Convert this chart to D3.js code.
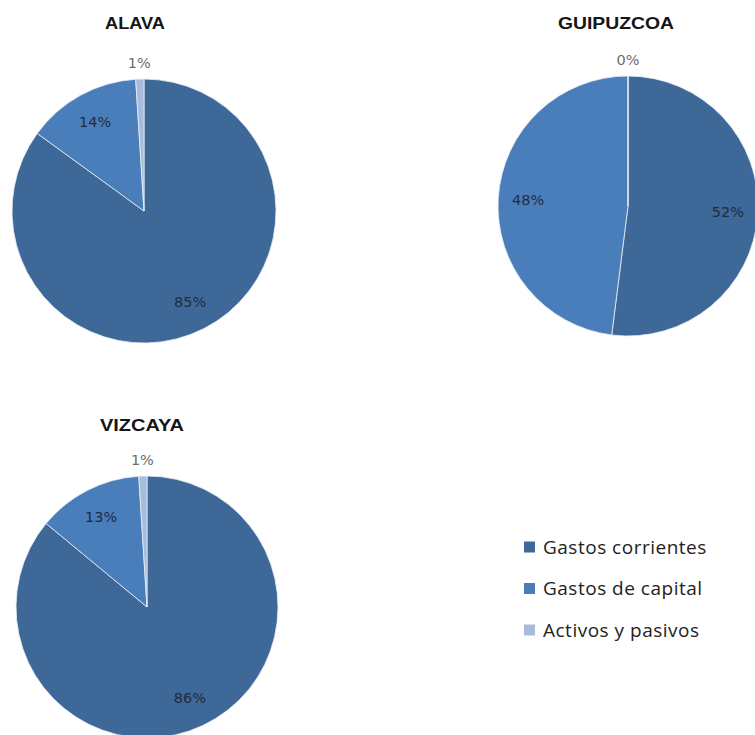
<!DOCTYPE html>
<html><head><meta charset="utf-8">
<script src="https://cdn.jsdelivr.net/npm/d3@7"></script>
<style>html,body{margin:0;padding:0;background:#fff;overflow:hidden}</style>
</head><body>
<svg id="c" width="755" height="735"></svg>
<script>
const categories = ["Gastos corrientes", "Gastos de capital", "Activos y pasivos"];
const regions = ["ALAVA", "GUIPUZCOA", "VIZCAYA"];
const alavaValues = [85, 14, 1];
const guipuzcoaValues = [52, 48, 0];
const vizcayaValues = [86, 13, 1];
const colors = ["#3e6898", "#4a7ebb", "#a8bbd9"];

const svg = d3.select("#c");
const color = d3.scaleOrdinal().domain(categories).range(colors);

const layout = [
  {name: regions[0], values: alavaValues, cx: 144, cy: 211, r: 132, tx: 135, ty: 29, tw: 60},
  {name: regions[1], values: guipuzcoaValues, cx: 628, cy: 206, r: 130, tx: 616, ty: 29, tw: 116},
  {name: regions[2], values: vizcayaValues, cx: 147, cy: 607, r: 131, tx: 142, ty: 431, tw: 84}
];

const pie = d3.pie().sort(null).value(d => d.v);

layout.forEach(p => {
  const data = categories.map((c, i) => ({cat: c, v: p.values[i]}));
  const arcs = pie(data);
  const arc = d3.arc().innerRadius(0).outerRadius(p.r);
  const g = svg.append("g").attr("transform", `translate(${p.cx},${p.cy})`);
  g.selectAll("path").data(arcs).join("path")
    .attr("d", arc)
    .attr("fill", d => color(d.data.cat))
    .attr("stroke", "#e8eef6").attr("stroke-width", 0.8);
  const inner = d3.arc().innerRadius(p.r * 0.77).outerRadius(p.r * 0.77);
  const outer = d3.arc().innerRadius(p.r + 16).outerRadius(p.r + 16);
  g.selectAll("text.lab").data(arcs).join("text")
    .attr("class", "lab")
    .attr("transform", d => {
      const small = (d.endAngle - d.startAngle) < 0.3;
      const c = (small ? outer : inner).centroid(d);
      return `translate(${c[0]},${c[1]})`;
    })
    .attr("text-anchor", "middle").attr("dy", "0.35em")
    .attr("font-family", "DejaVu Sans").attr("font-size", 14.5)
    .attr("fill", d => (d.endAngle - d.startAngle) < 0.3 ? "#6e6e6e" : "#1f2c3e")
    .text(d => d.data.v + "%");
  svg.append("text")
    .attr("x", p.tx).attr("y", p.ty)
    .attr("text-anchor", "middle")
    .attr("textLength", p.tw).attr("lengthAdjust", "spacingAndGlyphs")
    .attr("font-family", "Liberation Sans, Arial").attr("font-weight", "bold").attr("font-size", 17)
    .attr("fill", "#151515").text(p.name);
});

const leg = svg.append("g").attr("transform", "translate(524,547)");
const rows = leg.selectAll("g").data(categories).join("g")
  .attr("transform", (d, i) => `translate(0,${i * 41.5})`);
rows.append("rect").attr("x", 0).attr("y", -5.5).attr("width", 11).attr("height", 11)
  .attr("fill", d => color(d));
rows.append("text").attr("x", 19).attr("dy", "0.35em")
  .attr("font-family", "Open Sans").attr("font-size", 19).attr("letter-spacing", 0.5).attr("fill", "#222")
  .text(d => d);
</script>
</body></html>
